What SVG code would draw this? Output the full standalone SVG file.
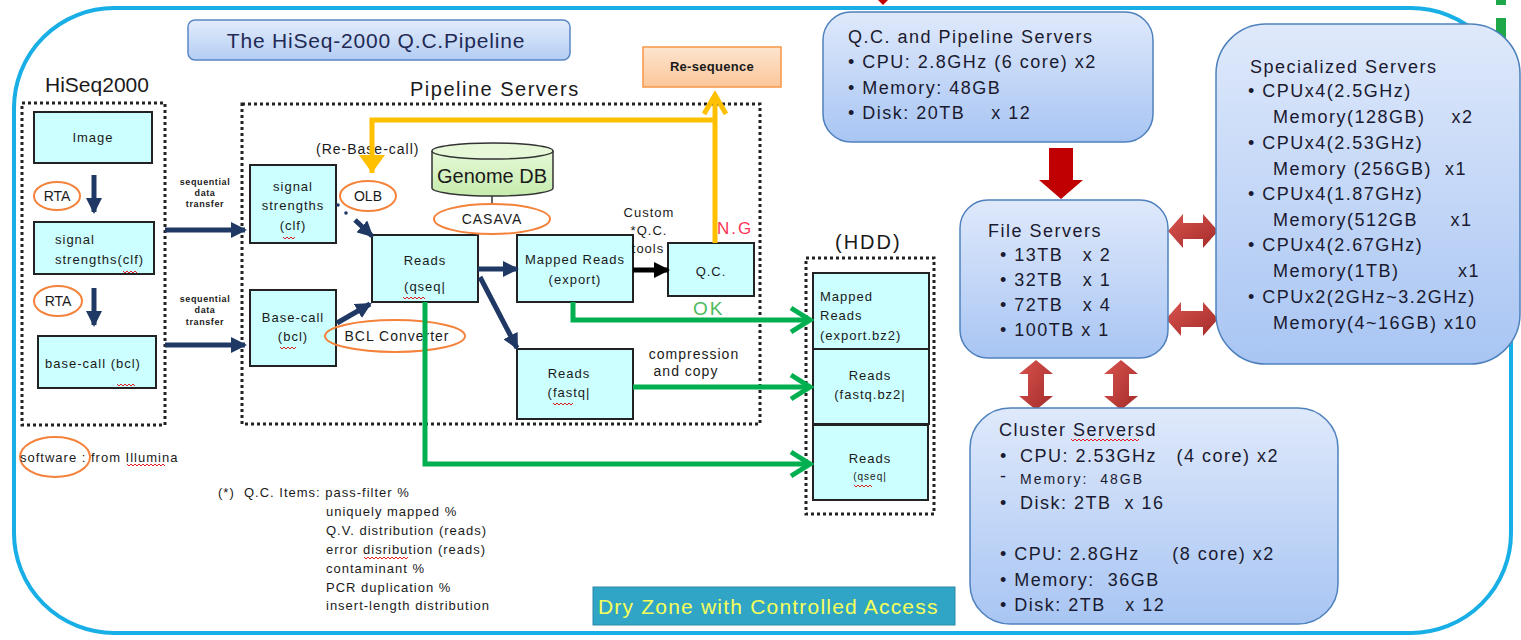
<svg xmlns="http://www.w3.org/2000/svg" width="1521" height="640" viewBox="0 0 1521 640">
<defs>
<linearGradient id="srv" x1="0" y1="0" x2="0" y2="1"><stop offset="0" stop-color="#dfe9fb"/><stop offset="1" stop-color="#a8c5f3"/></linearGradient>
<linearGradient id="ttl" x1="0" y1="0" x2="0" y2="1"><stop offset="0" stop-color="#e3ecfb"/><stop offset="1" stop-color="#b3cdf3"/></linearGradient>
<linearGradient id="org" x1="0" y1="0" x2="0" y2="1"><stop offset="0" stop-color="#fde4cf"/><stop offset="1" stop-color="#fbc79a"/></linearGradient>
<linearGradient id="red" x1="0" y1="0" x2="1" y2="1"><stop offset="0" stop-color="#d9534f"/><stop offset="1" stop-color="#a32b28"/></linearGradient>
<linearGradient id="cyl" x1="0" y1="0" x2="0" y2="1"><stop offset="0" stop-color="#e6f8d8"/><stop offset="1" stop-color="#c6ecac"/></linearGradient>
<marker id="navy" markerWidth="16" markerHeight="16" refX="14" refY="8" orient="auto" markerUnits="userSpaceOnUse"><path d="M0,0 L16,8 L0,16 z" fill="#1f3864"/></marker>
<marker id="blk" markerWidth="16" markerHeight="16" refX="14" refY="8" orient="auto" markerUnits="userSpaceOnUse"><path d="M0,0 L16,8 L0,16 z" fill="#000"/></marker>
<marker id="grn" markerWidth="26" markerHeight="30" refX="22" refY="15" orient="auto" markerUnits="userSpaceOnUse"><path d="M3,3 L22,15 L3,27" fill="none" stroke="#00b050" stroke-width="5"/></marker>
<marker id="yelv" markerWidth="26" markerHeight="26" refX="22" refY="13" orient="auto" markerUnits="userSpaceOnUse"><path d="M3,2 L22,13 L3,24" fill="none" stroke="#ffc000" stroke-width="5"/></marker>
<marker id="yelf" markerWidth="20" markerHeight="26" refX="18" refY="13" orient="auto" markerUnits="userSpaceOnUse"><path d="M0,0 L18,13 L0,26 z" fill="#ffc000"/></marker>
<style>
text{font-family:"Liberation Sans",Arial,sans-serif;fill:#1a1a1a}
.box{fill:#ccffff;stroke:#222;stroke-width:2}
.dot{fill:none;stroke:#222;stroke-width:3;stroke-dasharray:3 3}
.ell{fill:#fff;stroke:#f4823a;stroke-width:2}
.ell2{fill:none;stroke:#f4823a;stroke-width:2}
.srv{fill:url(#srv);stroke:#4f81bd;stroke-width:1.5}
.s11{font-size:13px;letter-spacing:1px}
.s9{font-size:9px;font-weight:bold;letter-spacing:0.6px}
.s14{font-size:14px;letter-spacing:1px}
.s16{font-size:18px;letter-spacing:1.5px;fill:#1a1a30}
.nv{stroke:#1f3864;stroke-width:5;fill:none}
.gr{stroke:#00b050;stroke-width:5;fill:none}
.yl{stroke:#ffc000;stroke-width:5;fill:none}
.sq{stroke:#e02020;stroke-width:1;fill:none}
.rarr{fill:url(#red)}
</style>
</defs>
<rect width="1521" height="640" fill="#fff"/>
<!-- outer zone -->
<rect x="14" y="8" width="1497" height="625" rx="100" fill="none" stroke="#18aee6" stroke-width="4"/>
<rect x="1496" y="0" width="10" height="5" fill="#1ea84a"/>
<rect x="1496" y="18" width="10" height="20" fill="#1ea84a"/>
<polygon points="878,0 888,0 883,5" fill="#c00000"/>

<g id="title"><rect x="188" y="20" width="382" height="40" rx="7" fill="url(#ttl)" stroke="#5b87c5" stroke-width="1.5"/><text x="376" y="48" font-size="21" letter-spacing="0.8" text-anchor="middle" style="fill:#1f2a55">The HiSeq-2000 Q.C.Pipeline</text></g>

<g id="hiseq"><text x="45" y="92" font-size="21">HiSeq2000</text><rect class="dot" x="22" y="103" width="143" height="322"/></g>
<g id="image"><rect class="box" x="34" y="112" width="118" height="51"/><text class="s11" x="93" y="142" text-anchor="middle">Image</text></g>
<g id="rta1"><ellipse class="ell" cx="57" cy="196" rx="23" ry="14"/><text x="57" y="201" font-size="14" text-anchor="middle">RTA</text></g>
<g id="sig1"><rect class="box" x="34" y="222" width="120" height="52"/><text class="s11" x="55" y="244">signal</text><text class="s11" x="55" y="264">strengths(clf)</text></g>
<g id="rta2"><ellipse class="ell" cx="58" cy="301" rx="24" ry="15"/><text x="58" y="306" font-size="14" text-anchor="middle">RTA</text></g>
<g id="bcl1"><rect class="box" x="38" y="336" width="118" height="52"/><text class="s11" x="93" y="368" text-anchor="middle">base-call (bcl)</text></g>
<g id="software"><ellipse class="ell2" cx="55" cy="457" rx="35" ry="20"/><text class="s11" x="20" y="462">software : from Illumina</text></g>

<g id="pipeline"><text x="410" y="96" font-size="20" letter-spacing="1.5">Pipeline Servers</text><rect class="dot" x="242" y="104" width="518" height="320"/></g>
<g id="sig2"><rect class="box" x="250" y="165" width="86" height="78"/><text class="s11" x="293" y="191" text-anchor="middle">signal</text><text class="s11" x="293" y="210" text-anchor="middle">strengths</text><text class="s11" x="293" y="230" text-anchor="middle">(clf)</text></g>
<g id="bcl2"><rect class="box" x="250" y="290" width="86" height="76"/><text class="s11" x="293" y="322" text-anchor="middle">Base-call</text><text class="s11" x="293" y="341" text-anchor="middle">(bcl)</text></g>
<g id="rebase"><text class="s14" x="316" y="154">(Re-Base-call)</text></g>
<g id="olb"><ellipse class="ell" cx="368" cy="196" rx="28" ry="15"/><text x="368" y="201" font-size="14" text-anchor="middle">OLB</text></g>
<g id="qseq"><rect class="box" x="372" y="235" width="106" height="67"/><text class="s11" x="425" y="265" text-anchor="middle">Reads</text><text class="s11" x="425" y="291" text-anchor="middle">(qseq|</text></g>
<g id="bclconv"><ellipse class="ell2" cx="395" cy="336" rx="70" ry="16"/><text class="s14" x="397" y="341" text-anchor="middle">BCL Converter</text></g>
<g id="genomedb"><path d="M432,151 L432,188 A60.5,8 0 0 0 553,188 L553,151" fill="url(#cyl)" stroke="#333" stroke-width="1.5"/><ellipse cx="492.5" cy="151" rx="60.5" ry="8" fill="#e6f8d8" stroke="#333" stroke-width="1.5"/><text x="492" y="183" font-size="20" text-anchor="middle">Genome DB</text><line x1="492" y1="196" x2="492" y2="204" stroke="#333" stroke-width="1.5"/></g>
<g id="casava"><ellipse class="ell" cx="492" cy="219" rx="58" ry="15"/><text class="s14" x="492" y="224" text-anchor="middle">CASAVA</text></g>
<g id="mapped"><rect class="box" x="517" y="235" width="116" height="67"/><text class="s11" x="575" y="264" text-anchor="middle">Mapped Reads</text><text class="s11" x="575" y="284" text-anchor="middle">(export)</text></g>
<g id="fastq"><rect class="box" x="517" y="349" width="116" height="70"/><text class="s11" x="569" y="378" text-anchor="middle">Reads</text><text class="s11" x="569" y="397" text-anchor="middle">(fastq|</text></g>
<g id="qc"><rect class="box" x="668" y="243" width="86" height="53"/><text class="s11" x="711" y="276" text-anchor="middle">Q.C.</text></g>
<g id="reseq"><rect x="643" y="47" width="138" height="40" fill="url(#org)" stroke="#f79646" stroke-width="1.5"/><text x="712" y="71" font-size="13" letter-spacing="0.3" text-anchor="middle" font-weight="bold">Re-sequence</text></g>

<g id="hdd"><text x="835" y="249" font-size="20" letter-spacing="2">(HDD)</text><rect class="dot" x="806" y="258" width="128" height="256"/></g>
<g id="hdd1"><rect class="box" x="813" y="273" width="116" height="76"/><text class="s11" x="820" y="301">Mapped</text><text class="s11" x="820" y="320">Reads</text><text class="s11" x="820" y="340">(export.bz2)</text></g>
<g id="hdd2"><rect class="box" x="813" y="349" width="116" height="75"/><text class="s11" x="870" y="380" text-anchor="middle">Reads</text><text class="s11" x="870" y="399" text-anchor="middle">(fastq.bz2|</text></g>
<g id="hdd3"><rect class="box" x="813" y="425" width="115" height="75"/><text class="s11" x="870" y="463" text-anchor="middle">Reads</text><text x="870" y="480" font-size="10" letter-spacing="1" text-anchor="middle">(qseq|</text></g>

<g id="connectors">
<line class="nv" x1="94" y1="175" x2="94" y2="212" marker-end="url(#navy)"/>
<line class="nv" x1="94" y1="288" x2="94" y2="325" marker-end="url(#navy)"/>
<line class="nv" x1="165" y1="230" x2="245" y2="230" marker-end="url(#navy)"/>
<line class="nv" x1="165" y1="345" x2="245" y2="345" marker-end="url(#navy)"/>
<circle cx="338" cy="205" r="1.8" fill="#1f3864"/><circle cx="346" cy="213" r="1.8" fill="#1f3864"/>
<line class="nv" x1="355" y1="220" x2="372" y2="236" marker-end="url(#navy)"/>
<line class="nv" x1="337" y1="323" x2="370" y2="304" marker-end="url(#navy)"/>
<line class="nv" x1="478" y1="269" x2="517" y2="269" marker-end="url(#navy)"/>
<line class="nv" x1="480" y1="277" x2="517" y2="348" marker-end="url(#navy)"/>
<line x1="633" y1="270" x2="668" y2="270" stroke="#000" stroke-width="5" marker-end="url(#blk)"/>
<polyline class="yl" points="715,243 715,95" marker-end="url(#yelv)"/>
<polyline class="yl" points="715,120 372,120 372,173" marker-end="url(#yelf)"/>
<polyline class="gr" points="573,302 573,320 810,320" marker-end="url(#grn)"/>
<line class="gr" x1="633" y1="387" x2="810" y2="387" marker-end="url(#grn)"/>
<polyline class="gr" points="425,302 425,464 810,464" marker-end="url(#grn)"/>
<polygon class="rarr" points="1049,148 1073,148 1073,180 1083,180 1061,199 1039,180 1049,180" style="fill:#c00000"/>
<polygon class="rarr" points="1168,231 1183,214 1183,223 1203,223 1203,214 1218,231 1203,248 1203,239 1183,239 1183,248"/>
<polygon class="rarr" points="1166,319 1181,302 1181,311 1203,311 1203,302 1218,319 1203,336 1203,327 1181,327 1181,336"/>
<polygon class="rarr" points="1036,360 1053,374 1044,374 1044,396 1053,396 1036,410 1019,396 1028,396 1028,374 1019,374"/>
<polygon class="rarr" points="1121,360 1138,374 1129,374 1129,396 1138,396 1121,410 1104,396 1113,396 1113,374 1104,374"/>
</g>

<g id="labels">
<text class="s9" x="205" y="185" text-anchor="middle">sequential</text><text class="s9" x="205" y="196" text-anchor="middle">data</text><text class="s9" x="205" y="207" text-anchor="middle">transfer</text>
<text class="s9" x="205" y="302" text-anchor="middle">sequential</text><text class="s9" x="205" y="313" text-anchor="middle">data</text><text class="s9" x="205" y="325" text-anchor="middle">transfer</text>
<text class="s11" x="649" y="217" text-anchor="middle">Custom</text><text class="s11" x="649" y="235" text-anchor="middle">*Q.C.</text><text class="s11" x="648" y="253" text-anchor="middle">tools</text>
<text x="717" y="234" font-size="17" letter-spacing="2" style="fill:#ff3355">N.G</text>
<text x="693" y="315" font-size="19" letter-spacing="2" style="fill:#4cbb5c">OK</text>
<text class="s14" x="694" y="359" text-anchor="middle">compression</text><text class="s14" x="686" y="376" text-anchor="middle">and copy</text>
</g>

<g id="qcitems">
<text class="s11" x="218" y="497" xml:space="preserve">(*)  Q.C. Items: pass-filter %</text>
<text class="s11" x="326" y="516">uniquely mapped %</text>
<text class="s11" x="326" y="535">Q.V. distribution (reads)</text>
<text class="s11" x="326" y="554">error disribution (reads)</text>
<text class="s11" x="326" y="573">contaminant %</text>
<text class="s11" x="326" y="592">PCR duplication %</text>
<text class="s11" x="326" y="610">insert-length distribution</text>
</g>

<g id="dryzone"><rect x="593" y="587" width="362" height="38" fill="#31a5c6" stroke="#2a8aa8"/><text x="598" y="614" font-size="21" letter-spacing="1.2" style="fill:#f6ff5a">Dry Zone with Controlled Access</text></g>

<g id="qcservers"><rect class="srv" x="823" y="12" width="330" height="130" rx="28"/>
<text class="s16" x="848" y="43">Q.C. and Pipeline Servers</text>
<text class="s16" x="848" y="68">• CPU: 2.8GHz (6 core) x2</text>
<text class="s16" x="848" y="94">• Memory:  48GB</text>
<text class="s16" x="848" y="119" xml:space="preserve">• Disk: 20TB    x 12</text></g>

<g id="fileservers"><rect class="srv" x="960" y="200" width="208" height="158" rx="28"/>
<text class="s16" x="988" y="237">File Servers</text>
<text class="s16" x="1000" y="261" xml:space="preserve">• 13TB   x 2</text>
<text class="s16" x="1000" y="286" xml:space="preserve">• 32TB   x 1</text>
<text class="s16" x="1000" y="311" xml:space="preserve">• 72TB   x 4</text>
<text class="s16" x="1000" y="336">• 100TB x 1</text></g>

<g id="specialized"><rect class="srv" x="1216" y="24" width="304" height="340" rx="50"/>
<text class="s16" x="1250" y="73">Specialized Servers</text>
<text class="s16" x="1248" y="97">• CPUx4(2.5GHz)</text>
<text class="s16" x="1273" y="123" xml:space="preserve">Memory(128GB)    x2</text>
<text class="s16" x="1248" y="149">• CPUx4(2.53GHz)</text>
<text class="s16" x="1273" y="175" xml:space="preserve">Memory (256GB)  x1</text>
<text class="s16" x="1248" y="200">• CPUx4(1.87GHz)</text>
<text class="s16" x="1273" y="226" xml:space="preserve">Memory(512GB     x1</text>
<text class="s16" x="1248" y="251">• CPUx4(2.67GHz)</text>
<text class="s16" x="1273" y="277" xml:space="preserve">Memory(1TB)         x1</text>
<text class="s16" x="1248" y="303">• CPUx2(2GHz~3.2GHz)</text>
<text class="s16" x="1273" y="329">Memory(4~16GB) x10</text></g>

<g id="cluster"><rect class="srv" x="970" y="408" width="368" height="216" rx="40"/>
<text class="s16" x="999" y="436">Cluster Serversd</text>
<text class="s16" x="1000" y="462">•</text><text class="s16" x="1020" y="462" xml:space="preserve">CPU: 2.53GHz   (4 core) x2</text>
<text class="s16" x="1000" y="482">-</text><text x="1020" y="484" font-size="14" letter-spacing="2" xml:space="preserve" style="fill:#1a1a30">Memory:  48GB</text>
<text class="s16" x="1000" y="509">•</text><text class="s16" x="1020" y="509" xml:space="preserve">Disk: 2TB  x 16</text>
<text class="s16" x="1000" y="560" xml:space="preserve">• CPU: 2.8GHz     (8 core) x2</text>
<text class="s16" x="1000" y="586" xml:space="preserve">• Memory:  36GB</text>
<text class="s16" x="1000" y="611" xml:space="preserve">• Disk: 2TB   x 12</text></g>

<g id="squiggles">
<path class="sq" d="M123,271 l2,2 l2,-2 l2,2 l2,-2 l2,2 l2,-2 l2,2"/>
<path class="sq" d="M117,384 l2,2 l2,-2 l2,2 l2,-2 l2,2 l2,-2 l2,2 l2,-2 l2,2"/>
<path class="sq" d="M283,237 l2,2 l2,-2 l2,2 l2,-2 l2,2 l2,-2"/>
<path class="sq" d="M280,347 l2,2 l2,-2 l2,2 l2,-2 l2,2 l2,-2 l2,2 l2,-2"/>
<path class="sq" d="M403,297 l2,2 l2,-2 l2,2 l2,-2 l2,2 l2,-2 l2,2 l2,-2 l2,2 l2,-2 l2,2"/>
<path class="sq" d="M553,403 l2,2 l2,-2 l2,2 l2,-2 l2,2 l2,-2 l2,2 l2,-2 l2,2 l2,-2"/>
<path class="sq" d="M854,485 l2,2 l2,-2 l2,2 l2,-2 l2,2 l2,-2 l2,2 l2,-2 l2,2"/>
<path class="sq" d="M127,464 l2,2 l2,-2 l2,2 l2,-2 l2,2 l2,-2 l2,2 l2,-2 l2,2 l2,-2 l2,2 l2,-2 l2,2 l2,-2 l2,2 l2,-2 l2,2 l2,-2 l2,2"/>
<path class="sq" d="M364,557 l2,2 l2,-2 l2,2 l2,-2 l2,2 l2,-2 l2,2 l2,-2 l2,2 l2,-2 l2,2 l2,-2 l2,2 l2,-2 l2,2 l2,-2 l2,2 l2,-2 l2,2 l2,-2 l2,2 l2,-2"/>
<path class="sq" d="M1071,439 l2,2 l2,-2 l2,2 l2,-2 l2,2 l2,-2 l2,2 l2,-2 l2,2 l2,-2 l2,2 l2,-2 l2,2 l2,-2 l2,2 l2,-2 l2,2 l2,-2 l2,2 l2,-2 l2,2 l2,-2 l2,2 l2,-2 l2,2 l2,-2 l2,2 l2,-2 l2,2 l2,-2 l2,2 l2,-2 l2,2 l2,-2"/>
</g>
</svg>
